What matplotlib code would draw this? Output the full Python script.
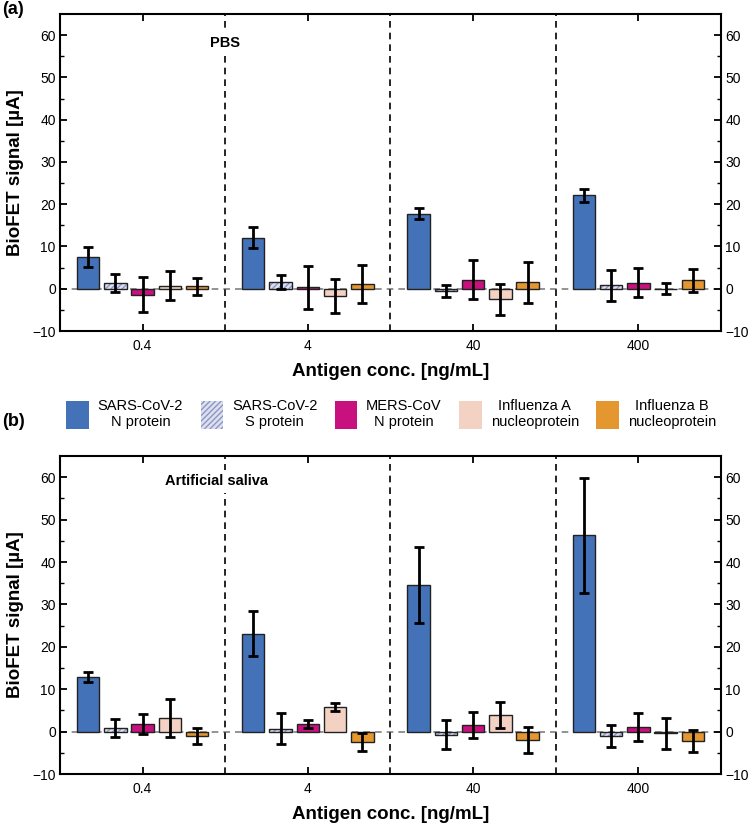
import numpy as np
import matplotlib.pyplot as plt
from matplotlib.patches import Patch

plt.rcParams["font.family"] = ["Liberation Sans", "DejaVu Sans"]

conc_labels = ["0.4", "4", "40", "400"]
series_names = [
    "SARS-CoV-2\nN protein",
    "SARS-CoV-2\nS protein",
    "MERS-CoV\nN protein",
    "Influenza A\nnucleoprotein",
    "Influenza B\nnucleoprotein",
]

# PBS (panel a)
pbs_n = [7.5, 12.1, 17.8, 22.1]
pbs_n_err = [2.3, 2.4, 1.4, 1.5]
pbs_s = [1.4, 1.6, -0.55, 0.85]
pbs_s_err = [2.2, 1.6, 1.35, 3.65]
pbs_mers = [-1.4, 0.3, 2.15, 1.45]
pbs_mers_err = [4.2, 5.1, 4.55, 3.35]
pbs_flua = [0.75, -1.7, -2.5, 0.05]
pbs_flua_err = [3.45, 4.1, 3.6, 1.35]
pbs_flub = [0.55, 1.1, 1.55, 1.95]
pbs_flub_err = [2.05, 4.4, 4.85, 2.65]

# artificial saliva (panel b)
sal_n = [12.8, 23.1, 34.6, 46.3]
sal_n_err = [1.2, 5.3, 9.0, 13.5]
sal_s = [0.8, 0.7, -0.7, -1.05]
sal_s_err = [2.1, 3.6, 3.5, 2.65]
sal_mers = [1.75, 1.8, 1.55, 1.2]
sal_mers_err = [2.35, 1.0, 3.05, 3.3]
sal_flua = [3.25, 5.75, 4.0, -0.4]
sal_flua_err = [4.55, 0.95, 3.1, 3.65]
sal_flub = [-0.95, -2.45, -2.0, -2.2]
sal_flub_err = [1.85, 2.05, 3.0, 2.7]

colors = ["#4472b8", "#dde0ef", "#c8107e", "#f4d2c3", "#e4962f"]
hatch_color = "#8c96c4"

fig = plt.figure(figsize=(7.48, 8.23), dpi=100)
ax_a = fig.add_axes([0.0802, 0.5978, 0.8837, 0.3852])
ax_b = fig.add_axes([0.0802, 0.0595, 0.8837, 0.3864])

x = np.arange(len(conc_labels))
offsets = (np.arange(5) - 2) * 0.165
width = 0.135


def draw_panel(ax, means, errs, note):
    ax.axhline(0, color="#808080", linestyle=(0, (4, 3)), linewidth=1.2, zorder=1)
    for i, (m, e) in enumerate(zip(means, errs)):
        xi = x + offsets[i]
        if i == 1:
            ax.bar(xi, m, width, color=colors[i], edgecolor=hatch_color,
                   hatch="//////", linewidth=0, zorder=2)
            ax.bar(xi, m, width, fill=False, edgecolor="#222222",
                   linewidth=1.0, zorder=2.5)
        else:
            ax.bar(xi, m, width, color=colors[i], edgecolor="#222222",
                   linewidth=1.0, zorder=2)
        ax.errorbar(xi, m, yerr=e, fmt="none", ecolor="black", elinewidth=2,
                    capsize=3.5, capthick=2, zorder=3)
    for sep in x[:-1] + 0.5:
        ax.axvline(sep, color="black", linestyle=(0, (4, 3)), linewidth=1.2, zorder=1)
    ax.set_xlim(-0.5, 3.5)
    ax.set_ylim(-10, 65)
    ax.set_xticks(x)
    ax.set_xticklabels(conc_labels)
    ax.set_yticks(np.arange(-10, 61, 10))
    ax.set_yticks(np.arange(-5, 65, 10), minor=True)
    ax.tick_params(axis="both", which="major", direction="in", length=5, width=1.3,
                   labelsize=10, top=True, right=True, labelright=True, pad=3)
    ax.tick_params(axis="x", which="major", pad=6)
    ax.tick_params(axis="y", which="minor", direction="in", length=3, width=1.0,
                   right=True)
    for sp in ax.spines.values():
        sp.set_linewidth(1.5)
    ax.set_xlabel("Antigen conc. [ng/mL]", fontsize=13.5, fontweight="bold",
                  labelpad=7)
    ax.set_ylabel("BioFET signal [µA]", fontsize=13.5, fontweight="bold",
                  labelpad=6)
    ax.text(note[0], note[1], note[2], ha="center", va="center", fontsize=10.5,
            fontweight="bold", zorder=4,
            bbox=dict(facecolor="white", edgecolor="none", pad=3))


draw_panel(ax_a, [pbs_n, pbs_s, pbs_mers, pbs_flua, pbs_flub],
           [pbs_n_err, pbs_s_err, pbs_mers_err, pbs_flua_err, pbs_flub_err],
           (0.5, 58.2, "PBS"))
draw_panel(ax_b, [sal_n, sal_s, sal_mers, sal_flua, sal_flub],
           [sal_n_err, sal_s_err, sal_mers_err, sal_flua_err, sal_flub_err],
           (0.45, 59.0, "Artificial saliva"))

fig.text(0.003, 0.988, "(a)", fontsize=13, fontweight="bold", va="center")
fig.text(0.003, 0.488, "(b)", fontsize=13, fontweight="bold", va="center")

handles = []
for i, c in enumerate(colors):
    if i == 1:
        handles.append(Patch(facecolor=c, edgecolor=hatch_color, hatch="//////",
                             linewidth=0))
    else:
        handles.append(Patch(facecolor=c, edgecolor="none"))
leg = fig.legend(handles, series_names, ncol=5, loc="center",
                 bbox_to_anchor=(0.523, 1 - 414 / 823), frameon=False,
                 fontsize=10.5, handlelength=1.55, handleheight=2.6,
                 handletextpad=0.6, columnspacing=1.2)
for t in leg.get_texts():
    t.set_multialignment("center")

fig.savefig("out.png", dpi=100)
